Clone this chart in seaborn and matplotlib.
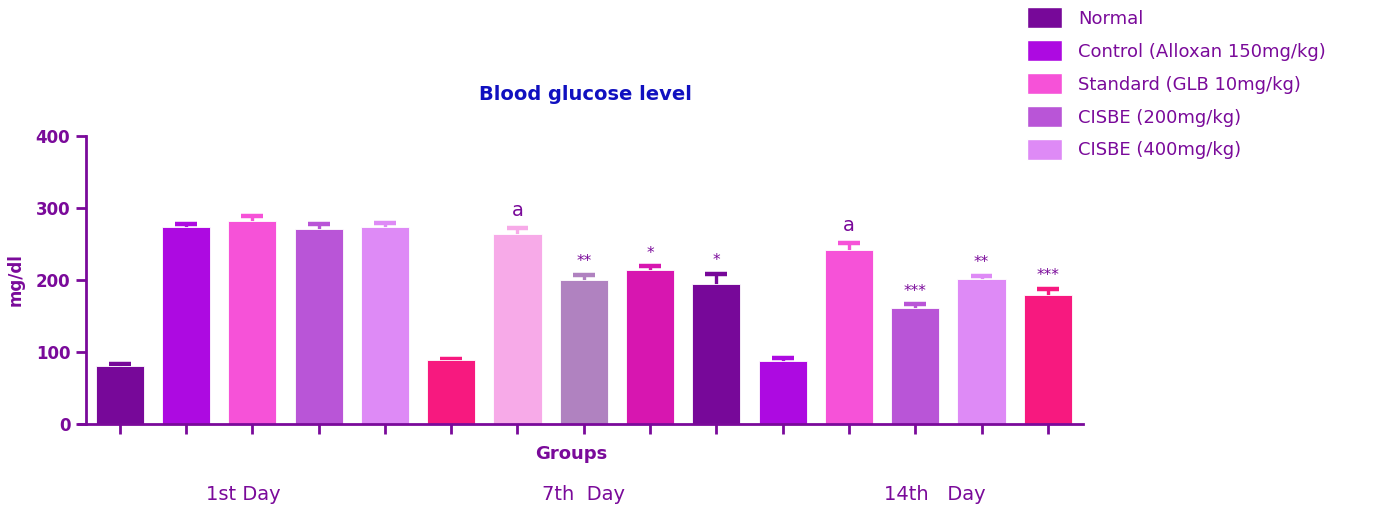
import matplotlib
matplotlib.use("Agg")
import matplotlib.pyplot as plt
import seaborn as sns
import pandas as pd
from matplotlib.patches import Patch

# ---- data ----
bar_ids = [f"b{i}" for i in range(15)]
means = [80, 273, 282, 271, 273, 89, 264, 200, 214, 195, 87, 242, 161, 201, 179]
errs = [3, 4.5, 7, 6.5, 6, 1.5, 8, 7, 5, 14, 5, 9, 5.5, 5, 8.5]
sig = ["", "", "", "", "", "", "a", "**", "*", "*", "", "a", "***", "**", "***"]
bar_colors = ["#770899", "#AD0AE1", "#F652D8", "#B955D7", "#DE8AF6",
              "#F7197F", "#F7AAE8", "#B082C0", "#D716B0", "#770899",
              "#AD0AE1", "#F652D8", "#B955D7", "#DE8AF6", "#F7197F"]
legend_labels = ["Normal", "Control (Alloxan 150mg/kg)", "Standard (GLB 10mg/kg)",
                 "CISBE (200mg/kg)", "CISBE (400mg/kg)"]
legend_colors = ["#770899", "#AD0AE1", "#F652D8", "#B955D7", "#DE8AF6"]
day_labels = ["1st Day", "7th  Day", "14th   Day"]
day_pos = [1.86, 7.0, 12.3]
yticks = [0, 100, 200, 300, 400]

PURPLE = "#7A0A9A"
TITLE_BLUE = "#1010C0"

sns.set_theme(style="white")
plt.rcParams["font.family"] = ["DejaVu Sans"]

df = pd.DataFrame({"bar": bar_ids, "value": means})

fig = plt.figure(figsize=(13.75, 5.08), dpi=100)
ax = fig.add_axes([0.0572, 0.1654, 0.7304, 0.5669])

sns.barplot(data=df, x="bar", y="value", hue="bar", palette=bar_colors,
            saturation=1, dodge=False, legend=False, width=0.725, errorbar=None,
            ax=ax, edgecolor="#FFFFFF", linewidth=0.6)

xs = list(range(len(means)))
cap_half = 0.165
for x, m, e, c in zip(xs, means, errs, bar_colors):
    ax.vlines(x, m, m + e, colors=c, linewidth=2.4, zorder=1)
    ax.hlines(m + e, x - cap_half, x + cap_half, colors=c, linewidth=3.2, zorder=1)
for p in ax.patches:
    p.set_zorder(2)

for x, m, e, s in zip(xs, means, errs, sig):
    if not s:
        continue
    if s == "a":
        ax.annotate(s, (x, m + e), xytext=(0, 6), textcoords="offset points",
                    ha="center", va="bottom", color=PURPLE, fontsize=14)
    else:
        ax.annotate(s, (x, m + e), xytext=(0, 4), textcoords="offset points",
                    ha="center", va="bottom", color=PURPLE, fontsize=11)

# spines first (set_position resets the tick labels)
for side in ["top", "right"]:
    ax.spines[side].set_visible(False)
for side in ["left", "bottom"]:
    ax.spines[side].set_color(PURPLE)
    ax.spines[side].set_linewidth(2)
ax.spines["left"].set_position(("data", -0.515))
ax.spines["left"].set_bounds(0, 400)

ax.set_xlim(-0.62, 14.53)
ax.set_ylim(0, 400)
ax.tick_params(axis="both", direction="out", length=7, width=2, color=PURPLE,
               labelcolor=PURPLE, left=True, bottom=True)
ax.tick_params(axis="y", pad=4)
ax.set_xticks(xs, labels=[""] * len(xs))
ax.set_yticks(yticks, labels=[str(t) for t in yticks], fontsize=12,
              fontweight="bold", color=PURPLE)

ax.set_xlabel("")
ax.set_ylabel("mg/dl", fontsize=12, fontweight="bold", color=PURPLE, labelpad=8)

ax.text(0.5 * (-0.62 + 14.53) - 0.15, -0.105, "Groups", transform=ax.get_xaxis_transform(),
        ha="center", va="center", fontsize=13, fontweight="bold", color=PURPLE)
for lbl, xp in zip(day_labels, day_pos):
    ax.text(xp, -0.245, lbl, transform=ax.get_xaxis_transform(),
            ha="center", va="center", fontsize=14, color=PURPLE)

fig.text(585 / 1375, 1 - 95 / 508, "Blood glucose level", ha="center", va="center",
         fontsize=14, fontweight="bold", color=TITLE_BLUE)

handles = [Patch(facecolor=c, edgecolor="#FFFFFF") for c in legend_colors]
fig.legend(handles, legend_labels, loc="upper left",
           bbox_to_anchor=(1011 / 1375, 1 + 9 / 508), frameon=False,
           fontsize=13, labelcolor=PURPLE, handlelength=1.9, handleheight=1.4,
           handletextpad=0.9, labelspacing=0.67)

fig.savefig("out.png", dpi=100)
